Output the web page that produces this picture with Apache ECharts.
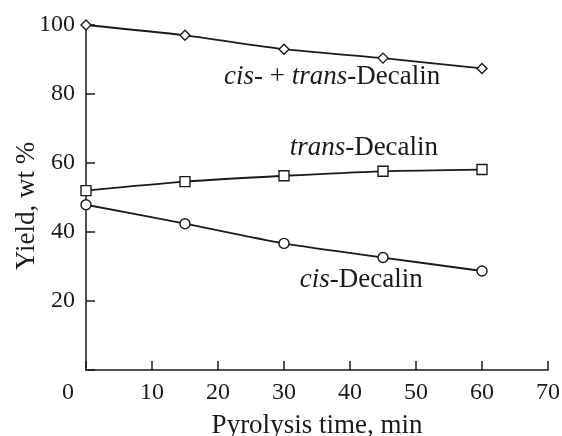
<!DOCTYPE html>
<html>
<head>
<meta charset="utf-8">
<script src="https://cdn.jsdelivr.net/npm/echarts@6/dist/echarts.min.js"></script>
<style>
  html, body { margin: 0; padding: 0; background: #fff; }
  #chart { width: 562px; height: 436px; }
</style>
</head>
<body>
<div id="chart"></div>
<script>
// Pyrolysis time, min
const times = [0, 15, 30, 45, 60];
// Yields, wt %
const totalDecalin = [100, 97.0, 93.0, 90.4, 87.4];
const transDecalin = [52.0, 54.6, 56.3, 57.6, 58.1];
const cisDecalin = [47.9, 42.4, 36.7, 32.6, 28.7];
// Axis ticks
const xTicks = [0, 10, 20, 30, 40, 50, 60, 70];
const yTicks = [0, 20, 40, 60, 80, 100];

const FONT = '"Liberation Serif", "DejaVu Serif", serif';
const INK = '#1a1a1a';
const LABEL_SIZE = 27;

function pairs(ys) {
  return times.map((t, i) => [t, ys[i]]);
}

// Text placed next to each curve, anchored in data coordinates
function curveLabel(coord, rich) {
  return {
    symbol: 'rect',
    symbolSize: 1,
    silent: true,
    itemStyle: { color: 'rgba(0,0,0,0)' },
    data: [{
      coord: coord,
      label: {
        show: true,
        position: 'inside',
        formatter: rich,
        fontFamily: FONT,
        fontSize: LABEL_SIZE,
        color: INK,
        rich: {
          i: { fontStyle: 'italic', fontFamily: FONT, fontSize: LABEL_SIZE, color: INK },
          n: { fontFamily: FONT, fontSize: LABEL_SIZE, color: INK }
        }
      }
    }]
  };
}

function series(name, ys, symbol, size, labelCfg) {
  return {
    name: name,
    type: 'line',
    data: pairs(ys),
    smooth: 0.25,
    symbol: symbol,
    symbolSize: size,
    showAllSymbol: true,
    lineStyle: { color: INK, width: 1.8 },
    itemStyle: { color: '#fff', borderColor: INK, borderWidth: 1.4 },
    z: 3,
    markPoint: labelCfg
  };
}

const chart = echarts.init(document.getElementById('chart'), null, { renderer: 'canvas' });

chart.setOption({
  animation: false,
  backgroundColor: '#fff',
  grid: { left: 86, right: 14, top: 25, bottom: 66, containLabel: false, outerBoundsMode: 'none' },
  xAxis: {
    type: 'value',
    min: xTicks[0],
    max: xTicks[xTicks.length - 1],
    interval: 10,
    name: 'Pyrolysis time, min',
    nameLocation: 'middle',
    nameGap: 42,
    nameMoveOverlap: false,
    nameTextStyle: { fontFamily: FONT, fontSize: LABEL_SIZE, color: INK },
    axisLine: { lineStyle: { color: INK, width: 1.5 } },
    axisTick: { inside: true, length: 9, lineStyle: { color: INK, width: 1.5 } },
    axisLabel: {
      margin: 11,
      fontFamily: FONT,
      fontSize: 24,
      color: INK,
      formatter: v => (v === 0 ? '{z|0}' : String(v)),
      rich: { z: { fontFamily: FONT, fontSize: 24, color: INK, padding: [0, 36, 0, 0] } }
    },
    splitLine: { show: false }
  },
  yAxis: {
    type: 'value',
    min: yTicks[0],
    max: yTicks[yTicks.length - 1],
    interval: 20,
    name: 'Yield, wt %',
    nameLocation: 'middle',
    nameGap: 46,
    nameMoveOverlap: false,
    nameTextStyle: { fontFamily: FONT, fontSize: LABEL_SIZE, color: INK, padding: [0, 17, 0, 0] },
    axisLine: { lineStyle: { color: INK, width: 1.5 } },
    axisTick: { inside: true, length: 9, lineStyle: { color: INK, width: 1.5 } },
    axisLabel: {
      margin: 11,
      fontFamily: FONT,
      fontSize: 24,
      color: INK,
      formatter: v => (v === 0 ? '' : String(v))
    },
    splitLine: { show: false }
  },
  series: [
    series('cis- + trans-Decalin', totalDecalin, 'diamond', 10,
      curveLabel([37.3, 84.9], '{i|cis}{n|- + }{i|trans}{n|-Decalin}')),
    series('trans-Decalin', transDecalin, 'rect', 10,
      curveLabel([42.1, 64.3], '{i|trans}{n|-Decalin}')),
    series('cis-Decalin', cisDecalin, 'circle', 10,
      curveLabel([41.7, 26.1], '{i|cis}{n|-Decalin}'))
  ]
});
</script>
</body>
</html>
